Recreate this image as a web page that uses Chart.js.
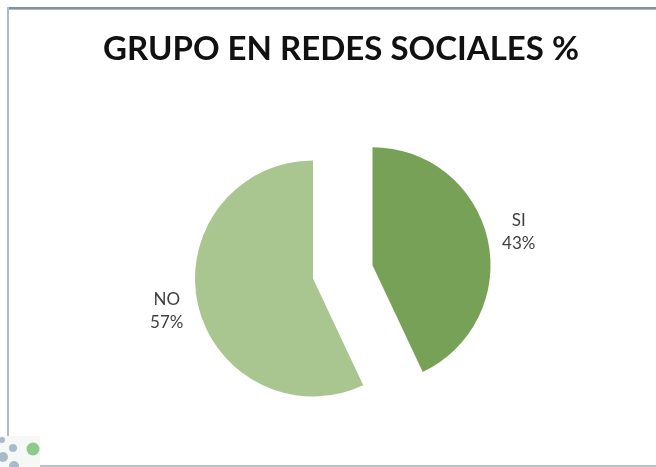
<!DOCTYPE html>
<html lang="es">
<head>
    <meta charset="UTF-8">
    <title>Grupo en redes sociales %</title>
    <style>
        html, body {
            margin: 0;
            padding: 0;
            background: #ffffff;
        }
        #wrap {
            width: 656px;
            height: 467px;
        }
    </style>
</head>
<body>
    <div id="wrap">
        <canvas id="pieChart" width="656" height="467"></canvas>
    </div>

    <script src="https://cdn.jsdelivr.net/npm/chart.js"></script>
    <script>
        const chartTitle = 'GRUPO EN REDES SOCIALES %';
        const categories = ['SI', 'NO'];
        const percentages = [43, 57];

        const sliceColors = ['#78a158', '#a9c690'];
        const explodePx = [61, 0]; // SI slice pulled out of the pie

        // Chart.js shrinks/enlarges an offset arc, so push the slice out by a plain translate
        const explodePlugin = {
            id: 'explode',
            beforeDatasetDraw(chart, args) {
                const c = chart.ctx;
                const meta = args.meta;
                meta.data.forEach((arc, i) => {
                    const p = arc.getProps(['startAngle', 'endAngle']);
                    const mid = (p.startAngle + p.endAngle) / 2;
                    const d = explodePx[i] || 0;
                    c.save();
                    c.translate(Math.cos(mid) * d, Math.sin(mid) * d);
                    arc.draw(c);
                    c.restore();
                });
                return false;
            }
        };

        // frame lines, title, labels and the little dots of the slide template
        const framePlugin = {
            id: 'frame',
            beforeDraw(chart) {
                const c = chart.ctx;
                c.save();
                c.fillStyle = '#ffffff';
                c.fillRect(0, 0, chart.width, chart.height);

                c.fillStyle = '#7f939e';
                c.fillRect(7, 7, chart.width - 7, 2);
                c.fillStyle = '#b4bcc0';
                c.fillRect(7, 9, chart.width - 7, 1);
                c.fillStyle = '#a9c0cc';
                c.fillRect(7, 7, 2, 429);
                c.fillStyle = '#bcc0cc';
                c.fillRect(40, 465, chart.width - 40, 2);

                c.fillStyle = '#f6f8f6';
                c.fillRect(0, 436, 40, 31);
                const dots = [[2, 440, 3], [13, 448, 4], [3, 457, 5], [14, 466, 5]];
                c.fillStyle = '#a7bccb';
                dots.forEach(d => {
                    c.beginPath();
                    c.arc(d[0], d[1], d[2], 0, Math.PI * 2);
                    c.fill();
                });
                c.fillStyle = '#8dc98c';
                c.beginPath();
                c.arc(33, 449, 6.5, 0, Math.PI * 2);
                c.fill();
                c.restore();
            },
            afterDraw(chart) {
                const c = chart.ctx;
                c.save();
                c.fillStyle = '#111111';
                c.font = 'bold 33px Lato, "Open Sans", sans-serif';
                c.textAlign = 'center';
                c.textBaseline = 'alphabetic';
                c.fillText(chartTitle, 341, 60);

                // slice labels, placed outside each arc along its middle angle
                const meta = chart.getDatasetMeta(0);
                c.font = '17px Lato, "Open Sans", sans-serif';
                c.fillStyle = '#404040';
                c.textBaseline = 'middle';
                meta.data.forEach((arc, i) => {
                    const p = arc.getProps(['x', 'y', 'startAngle', 'endAngle', 'outerRadius']);
                    const mid = (p.startAngle + p.endAngle) / 2;
                    const dist = (explodePx[i] || 0) + p.outerRadius * 1.27;
                    const lx = p.x + Math.cos(mid) * dist;
                    const ly = p.y + Math.sin(mid) * dist;
                    c.fillText(categories[i], lx, ly - 11.5);
                    c.fillText(percentages[i] + '%', lx, ly + 11.5);
                });
                c.restore();
            }
        };

        new Chart(document.getElementById('pieChart'), {
            type: 'pie',
            data: {
                labels: categories,
                datasets: [{
                    data: percentages,
                    backgroundColor: sliceColors,
                    borderWidth: 0
                }]
            },
            options: {
                responsive: false,
                animation: false,
                radius: 118,
                layout: {
                    padding: { left: 0, right: 30, top: 90, bottom: 0 }
                },
                plugins: {
                    legend: { display: false },
                    title: { display: false },
                    tooltip: { enabled: false }
                }
            },
            plugins: [explodePlugin, framePlugin]
        });
    </script>
</body>
</html>
